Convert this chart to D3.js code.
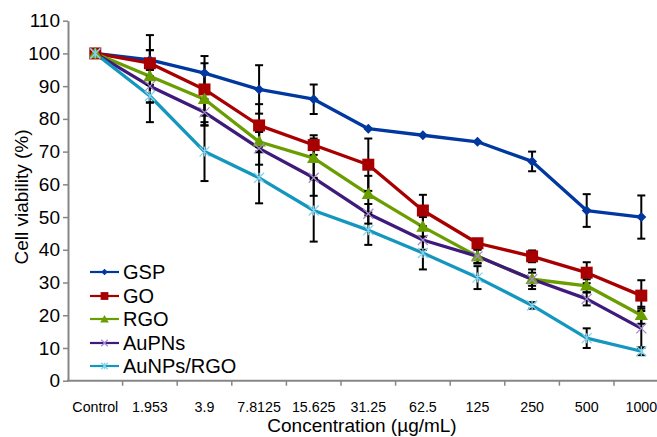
<!DOCTYPE html>
<html>
<head>
<meta charset="utf-8">
<script src="https://cdn.jsdelivr.net/npm/d3@7"></script>
<style>
  html, body { margin: 0; padding: 0; background: #fff; }
  svg { display: block; font-family: "Liberation Sans", Arial, sans-serif; }
</style>
</head>
<body>
<div id="chart"></div>
<script>
// Chart data
const concentrations = ["Control", "1.953", "3.9", "7.8125", "15.625", "31.25", "62.5", "125", "250", "500", "1000"];
const yTicks = [0, 10, 20, 30, 40, 50, 60, 70, 80, 90, 100, 110];
const seriesNames = ["GSP", "GO", "RGO", "AuPNs", "AuNPs/RGO"];

const gspValues   = [100, 98, 94, 89, 86, 77, 75, 73, 67, 52, 50];
const goValues    = [100, 97, 89, 78, 72, 66, 52, 42, 38, 33, 26];
const rgoValues   = [100, 93, 86, 73, 68, 57, 47, 38, 31, 29, 20];
const aupnsValues = [100, 90, 82, 71, 62, 51, 43, 38, 31, 25, 16];
const aunpsValues = [100, 87, 70, 62, 52, 46, 39, 31.5, 23, 13, 9];

// error bar half-lengths (±)
const gspErr   = [0, 7.6, 5.2, 7.4, 4.5, 0, 0, 0, 3, 5, 6.6];
const goErr    = [0, 4, 8, 6.5, 3, 8, 4.8, 0, 1.8, 3.2, 4.7];
const rgoErr   = [0, 8, 8, 3, 6, 5.6, 3, 2.2, 3, 2, 2.6];
const aupnsErr = [0, 5, 4, 5, 5.5, 3, 3, 2, 2, 2, 6];
const aunpsErr = [0, 8, 9, 7.8, 9.5, 4.5, 5, 3.5, 1, 3, 1.2];

const width = 657;
const height = 437;

const svg = d3.select("#chart")
  .append("svg")
  .attr("width", width)
  .attr("height", height);

const x = d3.scaleBand()
  .domain(concentrations)
  .range([68, 668.6])
  .padding(0);

const y = d3.scaleLinear()
  .domain([0, 110])
  .range([380.7, 20.7]);

const axisColor = "#868686";

// Y axis
const yAxis = svg.append("g")
  .attr("transform", "translate(68,0)")
  .call(d3.axisLeft(y).tickValues(yTicks).tickSize(5).tickSizeOuter(0).tickPadding(3));
yAxis.select(".domain").attr("stroke", axisColor).attr("stroke-width", 2);
yAxis.selectAll(".tick line").attr("stroke", axisColor).attr("stroke-width", 1.5);
yAxis.selectAll(".tick text")
  .attr("fill", "#000")
  .style("font-size", "19px");

// X axis: ticks on band boundaries
const xAxisG = svg.append("g")
  .attr("transform", "translate(0,380.7)");
xAxisG.append("line")
  .attr("x1", 67).attr("x2", width)
  .attr("stroke", axisColor).attr("stroke-width", 2);
xAxisG.selectAll("line.tk")
  .data(concentrations)
  .enter()
  .append("line")
  .attr("class", "tk")
  .attr("x1", d => x(d) + x.bandwidth())
  .attr("x2", d => x(d) + x.bandwidth())
  .attr("y1", 0).attr("y2", 5)
  .attr("stroke", axisColor).attr("stroke-width", 1.5);
// condensed-looking tick labels
xAxisG.selectAll("text")
  .data(concentrations)
  .enter()
  .append("text")
  .attr("transform", d => `translate(${x(d) + x.bandwidth() / 2},31.5) scale(0.92,1)`)
  .attr("text-anchor", "middle")
  .style("font-size", "15.5px")
  .text(d => d);

// Axis titles
svg.append("text")
  .attr("x", 362)
  .attr("y", 432)
  .attr("text-anchor", "middle")
  .style("font-size", "19px")
  .text("Concentration (µg/mL)");

svg.append("text")
  .attr("transform", "translate(28,197) rotate(-90)")
  .attr("text-anchor", "middle")
  .style("font-size", "19px")
  .text("Cell viability (%)");

// Series setup
const series = [
  { name: seriesNames[0], values: gspValues,   err: gspErr,   color: "#0038a0", mark: "#0038a0", shape: "diamond" },
  { name: seriesNames[1], values: goValues,    err: goErr,    color: "#a80000", mark: "#a80000", shape: "square" },
  { name: seriesNames[2], values: rgoValues,   err: rgoErr,   color: "#6a9e00", mark: "#6a9e00", shape: "triangle" },
  { name: seriesNames[3], values: aupnsValues, err: aupnsErr, color: "#3e1a7a", mark: "#a58ad4", shape: "cross" },
  { name: seriesNames[4], values: aunpsValues, err: aunpsErr, color: "#1497bf", mark: "#80d4ee", shape: "star" }
];

const line = d3.line()
  .x((d, i) => x(concentrations[i]) + x.bandwidth() / 2)
  .y(d => y(d));

// marker drawing helper
function drawMarker(g, shape, color, s) {
  if (shape === "diamond") {
    g.append("path")
      .attr("d", d3.symbol(d3.symbolSquare, s * s * 0.5)())
      .attr("transform", "rotate(45)")
      .attr("fill", color);
  } else if (shape === "square") {
    g.append("path")
      .attr("d", d3.symbol(d3.symbolSquare, s * s)())
      .attr("fill", color);
  } else if (shape === "triangle") {
    g.append("path")
      .attr("d", d3.symbol(d3.symbolTriangle, s * s * 0.45)())
      .attr("transform", "translate(0,1)")
      .attr("fill", color);
  } else if (shape === "cross") {
    const h = s / 2;
    g.append("path")
      .attr("d", `M${-h},${-h}L${h},${h}M${-h},${h}L${h},${-h}`)
      .attr("stroke", color).attr("stroke-width", 1.3).attr("fill", "none");
  } else if (shape === "star") {
    const h = s / 2;
    g.append("path")
      .attr("d", `M${-h},${-h}L${h},${h}M${-h},${h}L${h},${-h}M0,${-h}L0,${h}`)
      .attr("stroke", color).attr("stroke-width", 1.3).attr("fill", "none");
  }
}

const markerSize = { diamond: 10, square: 12, triangle: 13, cross: 10, star: 10 };

// lines
svg.append("g")
  .selectAll("path")
  .data(series)
  .enter()
  .append("path")
  .attr("d", d => line(d.values))
  .attr("fill", "none")
  .attr("stroke", d => d.color)
  .attr("stroke-width", 3.3)
  .attr("stroke-linejoin", "round");

// error bars
const errG = svg.append("g")
  .attr("stroke", "#000")
  .attr("stroke-width", 2);
series.forEach(s => {
  s.values.forEach((v, i) => {
    const e = s.err[i];
    if (!e) return;
    const cx = x(concentrations[i]) + x.bandwidth() / 2;
    const y1 = y(v + e), y2 = y(v - e);
    errG.append("line").attr("x1", cx).attr("x2", cx).attr("y1", y1).attr("y2", y2);
    errG.append("line").attr("x1", cx - 4).attr("x2", cx + 4).attr("y1", y1).attr("y2", y1);
    errG.append("line").attr("x1", cx - 4).attr("x2", cx + 4).attr("y1", y2).attr("y2", y2);
  });
});

// markers
series.forEach(s => {
  const g = svg.append("g");
  s.values.forEach((v, i) => {
    const m = g.append("g")
      .attr("transform", `translate(${x(concentrations[i]) + x.bandwidth() / 2},${y(v)})`);
    drawMarker(m, s.shape, s.mark, markerSize[s.shape]);
  });
});

// legend
const legendRows = [272, 296, 319, 343, 366];
const legend = svg.append("g");
series.forEach((s, i) => {
  const row = legend.append("g").attr("transform", `translate(0,${legendRows[i]})`);
  row.append("line")
    .attr("x1", 90).attr("x2", 119)
    .attr("stroke", s.color).attr("stroke-width", 2.2);
  const m = row.append("g").attr("transform", "translate(104.5,0)");
  drawMarker(m, s.shape, s.mark, markerSize[s.shape] * 0.65);
  row.append("text")
    .attr("x", 123)
    .attr("y", 7)
    .style("font-size", "20px")
    .text(s.name);
});
</script>
</body>
</html>
